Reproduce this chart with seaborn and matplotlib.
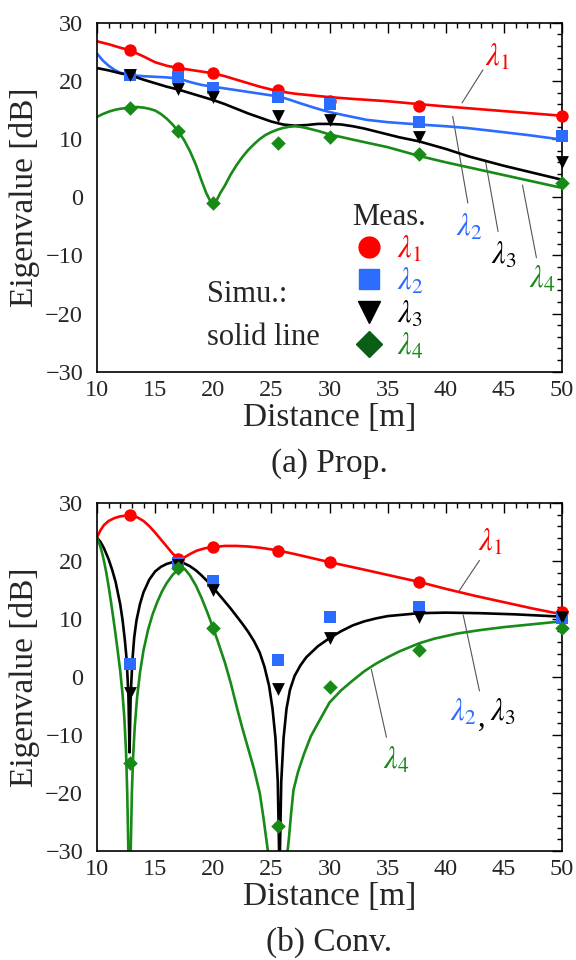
import numpy as np
import pandas as pd
import matplotlib
matplotlib.use("Agg")
import matplotlib.pyplot as plt
from matplotlib.lines import Line2D
from matplotlib.ticker import MultipleLocator
import seaborn as sns

sns.set_style("white")
plt.rcParams['font.family'] = ['Liberation Serif', 'DejaVu Serif']
plt.rcParams['mathtext.fontset'] = 'stix'

# ---------------- data ----------------
meas_x = [12.8, 17, 20, 25.6, 30, 37.7, 50]

# (a) Prop. measurements
a_l1 = [25.3, 22.2, 21.4, 18.4, 16.6, 15.6, 13.9]
a_l2 = [21.0, 20.6, 18.7, 17.3, 16.0, 12.9, 10.5]
a_l3 = [21.0, 18.6, 17.3, 13.9, 13.3, 10.4, 6.1]
a_l4 = [15.3, 11.3, -1.0, 9.4, 10.4, 7.4, 2.4]

# (a) Prop. simulation
a_s1_x = [10, 11, 12, 12.8, 14, 15, 16, 17, 18, 19, 20, 21, 22, 23, 24, 25, 25.7, 27,
          28.5, 30, 32, 35, 37.7, 40, 42.5, 45, 47.5, 50]
a_s1_y = [26.8, 26.3, 25.7, 25.3, 24.2, 23.2, 22.6, 22.2, 21.9, 21.6, 21.3, 20.8, 20.2,
          19.6, 19.0, 18.5, 18.2, 17.8, 17.5, 17.2, 16.9, 16.5, 16.0, 15.6, 15.2, 14.8, 14.4, 14.0]
a_s2_x = [10, 10.5, 11, 11.5, 12, 12.8, 14, 15, 16, 17, 18, 19, 20, 21, 22, 23, 24, 25,
          25.7, 26.5, 27.4, 28.5, 29.5, 30.3, 31.5, 33.2, 35, 37.7, 40, 41.8, 44, 47, 50]
a_s2_y = [24.7, 23.5, 22.6, 21.9, 21.4, 21.0, 20.8, 20.7, 20.6, 20.4, 19.8, 19.3, 19.0,
          18.7, 18.4, 18.1, 17.8, 17.5, 17.3, 16.8, 16.2, 15.5, 14.9, 14.5, 14.0, 13.3, 12.9,
          12.5, 12.2, 11.9, 11.4, 10.7, 9.9]
a_s3_x = [10, 11, 12, 12.8, 14, 15, 16, 17, 18, 19, 20, 21, 22, 23, 24, 25, 26, 27, 28,
          29, 30, 31, 32, 33, 34, 35, 36, 37.7, 40, 42, 45, 47.5, 50]
a_s3_y = [22.2, 21.8, 21.3, 21.0, 20.2, 19.6, 19.0, 18.5, 17.9, 17.3, 16.7, 16.0, 15.2,
          14.4, 13.7, 13.0, 12.5, 12.3, 12.4, 12.6, 12.6, 12.5, 12.2, 11.8, 11.3, 10.8, 10.3,
          9.6, 8.3, 7.0, 5.4, 4.2, 3.0]
a_s4_x = [10, 10.5, 11, 11.5, 12, 12.8, 13.5, 14, 14.5, 15, 15.5, 16, 16.5, 17, 17.5, 18,
          18.5, 19, 19.4, 19.7, 20, 20.3, 20.6, 21, 21.5, 22, 22.5, 23, 23.5, 24, 24.5, 25,
          25.5, 26, 26.5, 27, 27.5, 28, 29, 30, 32, 35, 37.7, 40, 45, 50]
a_s4_y = [13.8, 14.3, 14.7, 15.0, 15.2, 15.4, 15.5, 15.4, 15.2, 14.9, 14.3, 13.5, 12.5,
          11.3, 9.8, 7.9, 5.6, 2.8, 0.7, -0.5, -1.3, -0.5, 0.7, 2.0, 3.9, 5.5, 6.9, 8.1, 9.1,
          10.0, 10.7, 11.2, 11.6, 11.9, 12.1, 12.2, 12.1, 11.9, 11.4, 10.8, 9.9, 8.6, 7.1,
          6.0, 3.8, 1.6]

# (b) Conv. measurements
b_l1 = [27.9, 20.4, 22.4, 21.8, 19.8, 16.4, 11.2]
b_l2 = [2.3, 19.6, 16.5, 3.0, 10.4, 12.0, 10.1]
b_l3 = [-2.7, 19.3, 15.0, -2.1, 6.7, 10.4, 10.4]
b_l4 = [-14.9, 18.8, 8.4, -25.7, -1.7, 4.6, 8.4]

# (b) Conv. simulation
b_s1_x = [10, 10.3, 10.6, 11, 11.5, 12, 12.8, 13.5, 14, 14.5, 15, 15.5, 16, 16.5, 17,
          17.5, 18, 18.6, 19.3, 20, 21, 22, 23, 24, 25, 25.6, 27, 28.5, 30, 33, 35, 37.7,
          40, 42.5, 45, 47.5, 50]
b_s1_y = [24.1, 25.3, 26.2, 26.9, 27.4, 27.7, 27.9, 27.5, 26.9, 26.0, 24.9, 23.7, 22.5,
          21.3, 20.4, 20.6, 21.2, 21.8, 22.2, 22.4, 22.6, 22.6, 22.5, 22.3, 22.0, 21.8, 21.2,
          20.5, 19.8, 18.5, 17.6, 16.4, 15.2, 14.0, 12.9, 11.8, 10.8]
b_s23_x = [10, 10.3, 10.6, 11, 11.3, 11.6, 12, 12.2, 12.4, 12.55, 12.7, 12.8, 12.9, 13.05,
           13.2, 13.4, 13.7, 14, 14.5, 15, 15.5, 16, 16.5, 17, 17.5, 18, 18.5, 19, 19.5, 20,
           20.5, 21, 21.5, 22, 22.5, 23, 23.5, 24, 24.4, 24.8, 25.1, 25.35, 25.55, 25.7,
           25.85, 26.05, 26.3, 26.6, 27, 27.5, 28, 29, 30, 31, 32, 33, 34, 35, 37.7, 40, 43,
           46, 50]
b_s23_y = [24.0, 23.3, 22.2, 20.3, 18.5, 16.4, 12.5, 9.8, 6.3, 3.0, -3.0, -13.0, -3.0, 3.0,
           6.8, 9.8, 12.6, 14.6, 16.8, 18.2, 19.0, 19.5, 19.8, 19.8, 19.6, 19.1, 18.4, 17.5,
           16.5, 15.4, 14.2, 13.0, 11.8, 10.5, 9.2, 7.8, 6.2, 4.2, 1.8, -1.5, -5.5, -10.5,
           -18.0, -34.0, -18.0, -10.5, -5.5, -2.2, 0.2, 2.0, 3.4, 5.3, 6.7, 7.9, 8.9, 9.6,
           10.1, 10.5, 11.0, 11.1, 11.0, 10.8, 10.4]
b_s4_x = [10, 10.2, 10.4, 10.6, 10.8, 11.0, 11.2, 11.4, 11.6, 11.8, 12.0, 12.2, 12.35,
          12.5, 12.6, 12.7, 12.8, 12.9, 13.0, 13.1, 13.25, 13.45, 13.7, 14.0, 14.4, 14.8,
          15.2, 15.6, 16, 16.5, 17, 17.3, 17.6, 18, 18.5, 19, 19.5, 20, 20.4, 21, 21.5, 22,
          22.5, 23, 23.5, 24, 24.3, 24.7, 25.6, 26.5, 26.7, 26.9, 27.3, 27.8, 28.4, 29, 30,
          31, 32, 33, 34, 35, 36, 37.7, 39, 41, 43, 45, 47.5, 50]
b_s4_y = [24.0, 23.0, 21.7, 20.0, 18.0, 15.6, 13.0, 10.2, 7.3, 4.2, 1.0, -3.0, -7.0,
          -13.0, -20.0, -30.0, -45.0, -30.0, -20.0, -14.0, -8.5, -3.5, 0.8, 4.6, 8.2, 10.9,
          13.0, 14.8, 16.2, 17.6, 18.6, 18.8, 18.5, 17.5, 15.8, 13.6, 11.1, 8.4, 6.1, 2.5,
          -1.0, -5.0, -8.8, -12.3, -15.8, -20.0, -24.0, -30.0, -45.0, -28.0, -23.5, -19.5,
          -16.3, -13.3, -10.2, -8.0, -4.4, -2.3, -0.6, 1.0, 2.3, 3.4, 4.4, 5.8, 6.6, 7.5,
          8.1, 8.6, 9.1, 9.6]

RED = '#ff0000'
BLUE = '#2b6cff'
BLACK = '#000000'
GREEN = '#178a17'
DKGREEN = '#0b5e16'

FS_TICK = 17.5
FS_LAB = 24
FS_TXT = 22

fig = plt.figure(figsize=(5.76, 9.6), dpi=100)
ax_a = fig.add_axes([97/576, 1-371.7/960, 465/576, 349/960])
ax_b = fig.add_axes([97/576, 1-851/960, 465/576, 348/960])


def draw_line(ax, x, y, color):
    sns.lineplot(x=x, y=y, color=color, lw=1.9, ax=ax, estimator=None, sort=False, zorder=2)


def draw_meas(ax, y, marker, color, s):
    sns.scatterplot(x=meas_x, y=y, marker=marker, color=color, s=s, linewidth=0,
                    ax=ax, zorder=3, clip_on=False)


def style(ax, caption):
    ax.set_xlim(10, 50)
    ax.set_ylim(-30, 30)
    ax.xaxis.set_major_locator(MultipleLocator(5))
    ax.xaxis.set_minor_locator(MultipleLocator(1))
    ax.yaxis.set_major_locator(MultipleLocator(10))
    ax.yaxis.set_minor_locator(MultipleLocator(2))
    ax.tick_params(which='both', direction='in', top=True, right=True, width=1.0, color='black')
    ax.tick_params(which='major', length=7)
    ax.tick_params(which='minor', length=3.5)
    ax.tick_params(axis='x', which='major', labelsize=FS_TICK, pad=6)
    ax.tick_params(axis='y', which='major', labelsize=FS_TICK, pad=10)
    for sp in ax.spines.values():
        sp.set_visible(True)
        sp.set_color('black')
        sp.set_linewidth(1.2)
    ax.set_xlabel('Distance [m]', fontsize=FS_LAB)
    ax.xaxis.set_label_coords(0.5, -0.087)
    ax.set_ylabel('Eigenvalue [dB]', fontsize=FS_LAB)
    ax.yaxis.set_label_coords(-0.1226, 0.5)
    ax.text(0.5, -0.287, caption, transform=ax.transAxes, ha='center', va='baseline',
            fontsize=24)


def leader(ax, p0, p1):
    ax.plot([p0[0], p1[0]], [p0[1], p1[1]], color='#555555', lw=0.8, zorder=1.5)


# ---------------- (a) ----------------
draw_line(ax_a, a_s1_x, a_s1_y, RED)
draw_line(ax_a, a_s2_x, a_s2_y, BLUE)
draw_line(ax_a, a_s3_x, a_s3_y, BLACK)
draw_line(ax_a, a_s4_x, a_s4_y, GREEN)
draw_meas(ax_a, a_l1, 'o', RED, 80)
draw_meas(ax_a, a_l2, 's', BLUE, 80)
draw_meas(ax_a, a_l3, 'v', BLACK, 85)
draw_meas(ax_a, a_l4, 'D', GREEN, 55)
style(ax_a, '(a) Prop.')

leader(ax_a, (43.2, 21.9), (41.4, 16.2))
ax_a.text(44.4, 24.0, r'$\lambda_1$', color=RED, fontsize=FS_TXT, ha='center', va='center')
leader(ax_a, (40.6, 13.9), (41.9, -1.0))
ax_a.text(42.0, -5.2, r'$\lambda_2$', color=BLUE, fontsize=FS_TXT, ha='center', va='center')
leader(ax_a, (43.4, 6.4), (44.5, -5.9))
ax_a.text(45.0, -10.0, r'$\lambda_3$', color=BLACK, fontsize=FS_TXT, ha='center', va='center')
leader(ax_a, (46.6, 2.1), (47.8, -10.4))
ax_a.text(48.3, -14.2, r'$\lambda_4$', color=GREEN, fontsize=FS_TXT, ha='center', va='center')

ax_a.text(19.5, -16.8, 'Simu.:', fontsize=FS_TXT, ha='left', va='center')
ax_a.text(19.5, -24.2, 'solid line', fontsize=FS_TXT, ha='left', va='center')

handles = [
    Line2D([], [], ls='none', marker='o', color=RED, markersize=15),
    Line2D([], [], ls='none', marker='s', color=BLUE, markersize=15),
    Line2D([], [], ls='none', marker='v', color=BLACK, markersize=16),
    Line2D([], [], ls='none', marker='D', color=DKGREEN, markersize=13),
]
labels = [r'$\lambda_1$', r'$\lambda_2$', r'$\lambda_3$', r'$\lambda_4$']
leg = ax_a.legend(handles, labels, title='Meas.', loc='upper left',
                  bbox_to_anchor=(0.548, 0.482), frameon=False, fontsize=FS_TXT,
                  title_fontsize=FS_TXT, handlelength=1.0, handletextpad=0.4,
                  labelspacing=0.07, borderpad=0, borderaxespad=0,
                  labelcolor=[RED, BLUE, BLACK, GREEN])

# ---------------- (b) ----------------
draw_line(ax_b, b_s1_x, b_s1_y, RED)
draw_line(ax_b, b_s23_x, b_s23_y, BLACK)
draw_line(ax_b, b_s4_x, b_s4_y, GREEN)
draw_meas(ax_b, b_l1, 'o', RED, 80)
draw_meas(ax_b, b_l2, 's', BLUE, 80)
draw_meas(ax_b, b_l3, 'v', BLACK, 85)
draw_meas(ax_b, b_l4, 'D', GREEN, 55)
style(ax_b, '(b) Conv.')

leader(ax_b, (42.9, 20.1), (41.1, 14.7))
ax_b.text(43.8, 23.1, r'$\lambda_1$', color=RED, fontsize=FS_TXT, ha='center', va='center')
leader(ax_b, (41.5, 10.7), (42.9, -2.4))
ax_b.text(40.4, -6.2, r'$\lambda_2$', color=BLUE, fontsize=FS_TXT, ha='left', va='center')
ax_b.text(42.75, -7.2, ',', color=BLACK, fontsize=FS_TXT, ha='left', va='center')
ax_b.text(43.8, -6.2, r'$\lambda_3$', color=BLACK, fontsize=FS_TXT, ha='left', va='center')
leader(ax_b, (33.6, 1.3), (34.9, -10.4))
ax_b.text(35.7, -14.4, r'$\lambda_4$', color=GREEN, fontsize=FS_TXT, ha='center', va='center')

fig.savefig('out.png', dpi=100)
